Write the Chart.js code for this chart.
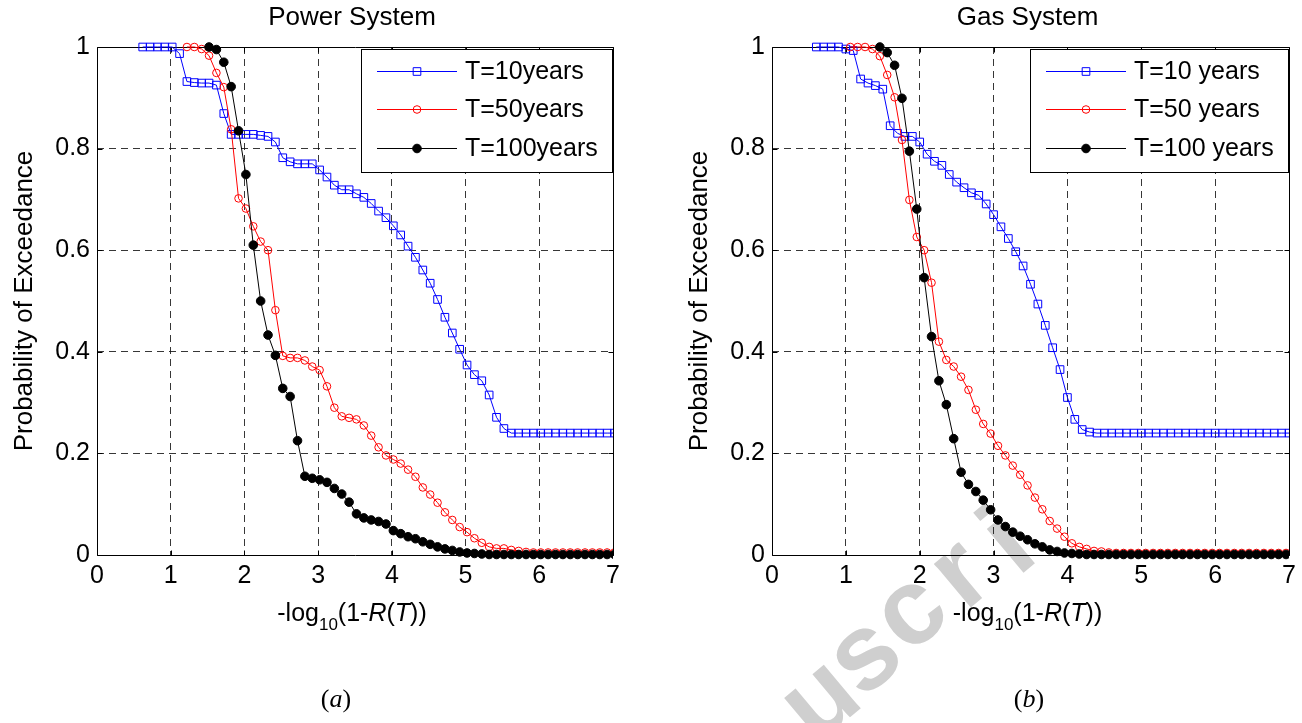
<!DOCTYPE html>
<html><head><meta charset="utf-8">
<script src="https://cdn.jsdelivr.net/npm/chart.js@4.4.1/dist/chart.umd.min.js"></script>
<style>
html,body{margin:0;padding:0;background:#fff;width:1302px;height:723px;overflow:hidden}
canvas{position:absolute;top:0}
#c1{left:0}#c2{left:651px}
</style></head><body>
<canvas id="c1" width="651" height="723"></canvas>
<canvas id="c2" width="651" height="723"></canvas>
<script>
// ---- tick values ----
const xTicks = [0,1,2,3,4,5,6,7];
const yTicks = [0,0.2,0.4,0.6,0.8,1];

// ---- texts ----
const powerTitle = 'Power System';
const gasTitle = 'Gas System';
const yAxisTitle = 'Probability of Exceedance';
const powerLabels = ['T=10years','T=50years','T=100years'];
const gasLabels = ['T=10 years','T=50 years','T=100 years'];
const captions = ['a','b'];
const watermarkLetters = ['u','s','c','r','i'];

// ---- Power system (a) ----
const powerX = [0.62,0.72,0.82,0.92,1.02,1.12,1.22,1.32,1.42,1.52,1.62,1.72,1.82,1.92,2.02,2.12,2.22,2.32,2.42,2.52,2.62,2.72,2.82,2.92,3.02,3.12,3.22,3.32,3.42,3.52,3.62,3.72,3.82,3.92,4.02,4.12,4.22,4.32,4.42,4.52,4.62,4.72,4.82,4.92,5.02,5.12,5.22,5.32,5.42,5.52,5.62,5.72,5.82,5.92,6.02,6.12,6.22,6.32,6.42,6.52,6.62,6.72,6.82,6.92,7.02];
const powerT10 = [1,1,1,1,1,0.987,0.932,0.930,0.929,0.929,0.925,0.869,0.828,0.828,0.828,0.828,0.826,0.824,0.813,0.782,0.774,0.770,0.770,0.770,0.758,0.744,0.728,0.719,0.719,0.711,0.704,0.692,0.677,0.664,0.648,0.630,0.608,0.586,0.561,0.535,0.503,0.468,0.437,0.405,0.374,0.355,0.343,0.315,0.271,0.249,0.240,0.240,0.240,0.240,0.240,0.240,0.240,0.240,0.240,0.240,0.240,0.240,0.240,0.240,0.240];
const powerT50 = [null,null,null,null,null,null,1.0,1.0,0.996,0.983,0.949,0.921,0.838,0.702,0.682,0.647,0.617,0.600,0.482,0.392,0.388,0.388,0.383,0.371,0.364,0.332,0.290,0.273,0.270,0.267,0.255,0.235,0.212,0.196,0.188,0.180,0.168,0.154,0.133,0.119,0.103,0.084,0.069,0.055,0.045,0.033,0.024,0.016,0.013,0.013,0.010,0.008,0.006,0.005,0.005,0.005,0.005,0.005,0.005,0.005,0.005,0.005,0.005,0.005,0.005];
const powerT100 = [null,null,null,null,null,null,null,null,null,1.0,0.995,0.970,0.922,0.835,0.749,0.610,0.500,0.433,0.393,0.328,0.312,0.225,0.155,0.151,0.148,0.143,0.131,0.120,0.104,0.081,0.073,0.069,0.066,0.061,0.048,0.042,0.036,0.032,0.026,0.021,0.016,0.012,0.009,0.006,0.004,0.003,0.002,0.001,0.001,0.001,0.001,0.001,0.001,0.001,0.001,0.001,0.001,0.001,0.001,0.001,0.001,0.001,0.001,0.001,0.001];

// ---- Gas system (b) ----
const gasX10 = [0.6,0.7,0.8,0.9,1.0,1.1,1.2,1.3,1.4,1.5,1.6,1.7,1.8,1.9,2.0,2.1,2.2,2.3,2.4,2.5,2.6,2.7,2.8,2.9,3.0,3.1,3.2,3.3,3.4,3.5,3.6,3.7,3.8,3.9,4.0,4.1,4.2,4.3,4.4,4.5,4.6,4.7,4.8,4.9,5.0,5.1,5.2,5.3,5.4,5.5,5.6,5.7,5.8,5.9,6.0,6.1,6.2,6.3,6.4,6.5,6.6,6.7,6.8,6.9,7.0];
const gasX = [0.56,0.66,0.76,0.86,0.96,1.06,1.16,1.26,1.36,1.46,1.56,1.66,1.76,1.86,1.96,2.06,2.16,2.26,2.36,2.46,2.56,2.66,2.76,2.86,2.96,3.06,3.16,3.26,3.36,3.46,3.56,3.66,3.76,3.86,3.96,4.06,4.16,4.26,4.36,4.46,4.56,4.66,4.76,4.86,4.96,5.06,5.16,5.26,5.36,5.46,5.56,5.66,5.76,5.86,5.96,6.06,6.16,6.26,6.36,6.46,6.56,6.66,6.76,6.86,6.96];
const gasT10 = [1,1,1,1,0.996,0.993,0.937,0.929,0.924,0.917,0.845,0.830,0.824,0.824,0.813,0.789,0.775,0.767,0.749,0.734,0.723,0.713,0.708,0.691,0.670,0.646,0.623,0.597,0.569,0.533,0.494,0.452,0.408,0.365,0.310,0.267,0.247,0.242,0.240,0.240,0.240,0.240,0.240,0.240,0.240,0.240,0.240,0.240,0.240,0.240,0.240,0.240,0.240,0.240,0.240,0.240,0.240,0.240,0.240,0.240,0.240,0.240,0.240,0.240,0.240];
const gasT50 = [null,null,null,null,null,1.0,1.0,1.0,0.996,0.982,0.945,0.901,0.817,0.699,0.626,0.600,0.536,0.420,0.384,0.371,0.351,0.325,0.286,0.258,0.239,0.215,0.196,0.176,0.158,0.137,0.113,0.090,0.067,0.052,0.036,0.023,0.016,0.012,0.008,0.007,0.005,0.004,0.004,0.004,0.004,0.004,0.004,0.004,0.004,0.004,0.004,0.004,0.004,0.004,0.004,0.004,0.004,0.004,0.004,0.004,0.004,0.004,0.004,0.004,0.004];
const gasT100 = [null,null,null,null,null,null,null,null,null,1.0,0.989,0.964,0.899,0.795,0.681,0.546,0.430,0.343,0.296,0.229,0.163,0.139,0.125,0.108,0.089,0.069,0.056,0.045,0.037,0.030,0.022,0.016,0.010,0.007,0.004,0.003,0.002,0.001,0.001,0.001,0.001,0.001,0.001,0.001,0.001,0.001,0.001,0.001,0.001,0.001,0.001,0.001,0.001,0.001,0.001,0.001,0.001,0.001,0.001,0.001,0.001,0.001,0.001,0.001,0.001];

// ---------------------------------------------------------------
const SANS = '"Liberation Sans", Arial, Helvetica, sans-serif';
const SERIF = '"Liberation Serif", "Times New Roman", serif';

function toPoints(xs, ys){
  const out = [];
  for (let i = 0; i < ys.length; i++) if (ys[i] !== null) out.push({x: xs[i], y: ys[i]});
  return out;
}

const seriesStyles = [
  {color:'#0000ff', pointStyle:'rect', radius:5.4, fill:'rgba(255,255,255,0)', order:3},
  {color:'#ff0000', pointStyle:'circle', radius:3.8, fill:'rgba(255,255,255,0)', order:2},
  {color:'#000000', pointStyle:'circle', radius:4.3, fill:'#000000', order:1}
];

function makeDataset(label, pts, st){
  return {
    label, data: pts,
    borderColor: st.color, borderWidth: 1, backgroundColor: 'rgba(0,0,0,0)',
    pointStyle: st.pointStyle, pointRadius: st.radius, pointHoverRadius: st.radius,
    pointBorderColor: st.color, pointBackgroundColor: st.fill, pointBorderWidth: 1,
    tension: 0, order: st.order, fill: false,
    clip: {left: 10, top: 10, right: 0, bottom: 10}
  };
}

function drawMarker(ctx, st, x, y){
  ctx.save();
  ctx.lineWidth = 1; ctx.strokeStyle = st.color; ctx.fillStyle = st.fill;
  ctx.beginPath();
  if (st.pointStyle === 'rect') {
    const s = st.radius * Math.SQRT1_2;
    ctx.rect(x - s, y - s, 2 * s, 2 * s);
  } else {
    ctx.arc(x, y, st.radius, 0, Math.PI * 2);
  }
  ctx.fill(); ctx.stroke();
  ctx.restore();
}

const axesBox = {
  id: 'axesBox',
  beforeDatasetsDraw(chart){
    const {ctx, chartArea: a, scales} = chart;
    const L = Math.round(a.left) + 0.5, R = Math.round(a.right) + 0.5;
    const T = Math.round(a.top) + 0.5, B = Math.round(a.bottom) + 0.5;
    ctx.save();
    ctx.strokeStyle = '#000'; ctx.lineWidth = 1;
    ctx.beginPath();
    ctx.rect(L, T, R - L, B - T);
    xTicks.forEach(v => {
      const px = Math.round(scales.x.getPixelForValue(v)) + 0.5;
      ctx.moveTo(px, B); ctx.lineTo(px, B - 5);
      ctx.moveTo(px, T); ctx.lineTo(px, T + 5);
    });
    yTicks.forEach(v => {
      const py = Math.round(scales.y.getPixelForValue(v)) + 0.5;
      ctx.moveTo(L, py); ctx.lineTo(L + 5, py);
      ctx.moveTo(R, py); ctx.lineTo(R - 5, py);
    });
    ctx.stroke();
    ctx.restore();
  }
};

const legendBox = {
  id: 'legendBox',
  afterDatasetsDraw(chart){
    const {ctx, chartArea: a} = chart;
    const labels = chart.data.datasets.map(d => d.label);
    ctx.save();
    ctx.font = '25px ' + SANS;
    const tw = Math.max(...labels.map(l => ctx.measureText(l).width));
    const w = Math.round(104 + tw + 14), h = 123;
    const right = Math.round(a.right) - 1, top = Math.round(a.top) + 2;
    const left = right - w;
    ctx.fillStyle = '#fff';
    ctx.fillRect(left, top, w, h);
    ctx.strokeStyle = '#000'; ctx.lineWidth = 1;
    ctx.strokeRect(left + 0.5, top + 0.5, w, h);
    const rows = [22, 60.3, 98.7];
    labels.forEach((lab, i) => {
      const st = seriesStyles[i];
      const y = Math.round(top + rows[i]) + 0.5;
      ctx.strokeStyle = st.color; ctx.lineWidth = 1;
      ctx.beginPath(); ctx.moveTo(left + 16, y); ctx.lineTo(left + 96, y); ctx.stroke();
      drawMarker(ctx, st, left + 56, y);
      ctx.fillStyle = '#000'; ctx.textAlign = 'left'; ctx.textBaseline = 'middle';
      ctx.fillText(lab, left + 104, y + 1);
    });
    ctx.restore();
  }
};

function drawXLabel(ctx, cx, baseline){
  const big = '25px ' + SANS, sub = '17px ' + SANS, it = 'italic 25px ' + SANS;
  const parts = [
    {t:'-log', f:big, dy:0}, {t:'10', f:sub, dy:9}, {t:'(1-', f:big, dy:0},
    {t:'R', f:it, dy:0}, {t:'(', f:big, dy:0}, {t:'T', f:it, dy:0}, {t:'))', f:big, dy:0}
  ];
  let total = 0;
  parts.forEach(p => { ctx.font = p.f; p.w = ctx.measureText(p.t).width; total += p.w; });
  let x = cx - total / 2;
  ctx.textAlign = 'left'; ctx.textBaseline = 'alphabetic'; ctx.fillStyle = '#000';
  parts.forEach(p => { ctx.font = p.f; ctx.fillText(p.t, x, baseline + p.dy); x += p.w; });
}

function drawCaption(ctx, cx, baseline, letter){
  const up = '26px ' + SERIF, it = 'italic 26px ' + SERIF;
  const parts = [{t:'(', f:up}, {t:letter, f:it}, {t:')', f:up}];
  let total = 0;
  parts.forEach(p => { ctx.font = p.f; p.w = ctx.measureText(p.t).width; total += p.w; });
  let x = cx - total / 2;
  ctx.textAlign = 'left'; ctx.textBaseline = 'alphabetic'; ctx.fillStyle = '#000';
  parts.forEach(p => { ctx.font = p.f; ctx.fillText(p.t, x, baseline); x += p.w; });
}

function makeTextPlugin(cfg){
  return {
    id: 'texts',
    beforeDraw(chart){
      if (!cfg.watermark) return;
      const ctx = chart.ctx;
      ctx.save();
      ctx.fillStyle = '#cfcfcf';
      ctx.font = 'bold 108px ' + SANS;
      ctx.textAlign = 'center'; ctx.textBaseline = 'middle';
      cfg.watermark.forEach(w => {
        ctx.save(); ctx.translate(w.x, w.y); ctx.rotate(-40 * Math.PI / 180);
        ctx.fillText(w.t, 0, 0); ctx.restore();
      });
      ctx.restore();
    },
    afterDraw(chart){
      const {ctx, chartArea: a} = chart;
      const cx = (a.left + a.right) / 2;
      ctx.save();
      ctx.fillStyle = '#000';
      ctx.font = '26px ' + SANS; ctx.textAlign = 'center'; ctx.textBaseline = 'alphabetic';
      ctx.fillText(cfg.title, cx - 3, 25);
      ctx.save();
      ctx.translate(a.left - 65, (a.top + a.bottom) / 2);
      ctx.rotate(-Math.PI / 2);
      ctx.font = '26px ' + SANS; ctx.textAlign = 'center'; ctx.textBaseline = 'alphabetic';
      ctx.fillText(yAxisTitle, 0, 0);
      ctx.restore();
      drawXLabel(ctx, cx - 3, 621);
      drawCaption(ctx, cfg.captionX, 707, cfg.caption);
      ctx.restore();
    }
  };
}

function gridColor(edgeValues){
  return c => (c.tick && edgeValues.includes(c.tick.value)) ? 'rgba(0,0,0,0)' : 'rgba(20,20,20,0.85)';
}

function makeChart(id, cfg){
  const ctx = document.getElementById(id).getContext('2d');
  return new Chart(ctx, {
    type: 'line',
    data: {
      datasets: [
        makeDataset(cfg.labels[0], toPoints(cfg.x10, cfg.y10), seriesStyles[0]),
        makeDataset(cfg.labels[1], toPoints(cfg.xo, cfg.y50), seriesStyles[1]),
        makeDataset(cfg.labels[2], toPoints(cfg.xo, cfg.y100), seriesStyles[2])
      ]
    },
    options: {
      responsive: false, animation: false, devicePixelRatio: 1,
      events: [],
      layout: {padding: {left: 0, top: 47, right: cfg.padRight, bottom: 128}},
      plugins: {legend: {display: false}, title: {display: false}, tooltip: {enabled: false}},
      scales: {
        x: {
          type: 'linear', min: 0, max: 7,
          afterFit: s => { s.height = 40; },
          afterBuildTicks: s => { s.ticks = xTicks.map(v => ({value: v})); },
          ticks: {color: '#000', font: {family: SANS, size: 25}, padding: 6, maxRotation: 0, autoSkip: false},
          grid: {color: gridColor([0, 7]), lineWidth: 1, drawTicks: false, tickLength: 0},
          border: {display: false, dash: [7, 5]}
        },
        y: {
          type: 'linear', min: 0, max: 1,
          afterFit: s => { s.width = cfg.yWidth; },
          afterBuildTicks: s => { s.ticks = yTicks.map(v => ({value: v})); },
          ticks: {color: '#000', font: {family: SANS, size: 25}, padding: 7, autoSkip: false,
                  callback: v => String(Math.round(v * 10) / 10)},
          grid: {color: gridColor([0, 1]), lineWidth: 1, drawTicks: false, tickLength: 0},
          border: {display: false, dash: [7, 5]}
        }
      }
    },
    plugins: [axesBox, legendBox, makeTextPlugin(cfg)]
  });
}

makeChart('c1', {
  title: powerTitle, labels: powerLabels,
  x10: powerX, xo: powerX, y10: powerT10, y50: powerT50, y100: powerT100,
  yWidth: 97, padRight: 38, caption: captions[0], captionX: 336
});
makeChart('c2', {
  title: gasTitle, labels: gasLabels,
  x10: gasX10, xo: gasX, y10: gasT10, y50: gasT50, y100: gasT100,
  yWidth: 121, padRight: 13, caption: captions[1], captionX: 1029 - 651,
  watermark: [
    {t: watermarkLetters[0], x: 822 - 651, y: 702},
    {t: watermarkLetters[1], x: 866 - 651, y: 658},
    {t: watermarkLetters[2], x: 912 - 651, y: 614},
    {t: watermarkLetters[3], x: 962 - 651, y: 576},
    {t: watermarkLetters[4], x: 1010 - 651, y: 545}
  ]
});
</script>
</body></html>
